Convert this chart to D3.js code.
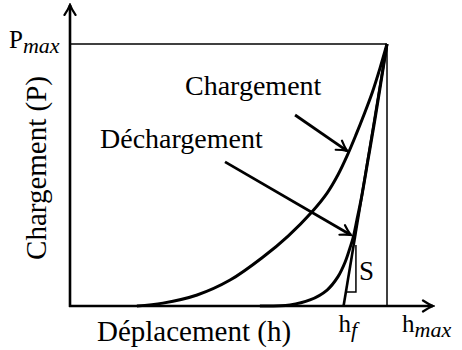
<!DOCTYPE html>
<html>
<head>
<meta charset="utf-8">
<script src="https://cdn.jsdelivr.net/npm/d3@7/dist/d3.min.js"></script>
<style>
  html, body { margin: 0; padding: 0; background: #fff; }
  svg { display: block; }
</style>
</head>
<body>
<svg id="chart" width="462" height="350"></svg>
<script>
// Normalised displacement h/hmax and load P/Pmax
const loadH = [0.211, 0.293, 0.401, 0.505, 0.609, 0.688, 0.763, 0.811, 0.845, 0.874, 0.902, 0.927, 0.953, 0.978, 1.0];
const loadP = [0.000, 0.011, 0.042, 0.099, 0.187, 0.267, 0.359, 0.431, 0.500, 0.573, 0.653, 0.729, 0.813, 0.908, 1.0];

const unloadH = [0.599, 0.694, 0.757, 0.811, 0.845, 0.868, 0.883, 0.893, 0.905, 0.921, 0.940, 0.959, 0.978, 1.0];
const unloadP = [0.000, 0.004, 0.023, 0.061, 0.111, 0.168, 0.221, 0.260, 0.328, 0.424, 0.557, 0.691, 0.832, 1.0];

// Final depth hf and maximum point (hmax, Pmax)
const hf = 0.863;
const hmax = 1.0;
const Pmax = 1.0;

// Contact stiffness S: small slope triangle under the tangent
const stiffH = [0.870, 0.902, 0.902];
const stiffP = [0.053, 0.053, 0.233];

// Axis extents beyond the maximum point
const hAxisEnd = 1.145;
const pAxisEnd = 1.149;

// Annotation arrows: [h0, P0, h1, P1]
const arrowCharge = [0.710, 0.729, 0.874, 0.592];
const arrowDecharge = [0.489, 0.550, 0.886, 0.271];

const SERIF = "'Liberation Serif', 'Times New Roman', 'DejaVu Serif', serif";

const svg = d3.select("#chart");

const x = d3.scaleLinear().domain([0, hmax]).range([70, 387]);
const y = d3.scaleLinear().domain([0, Pmax]).range([306, 44]);

// Arrow head marker (curved barbs)
const defs = svg.append("defs");
defs.append("marker")
  .attr("id", "head")
  .attr("viewBox", "-12 -7 14 14")
  .attr("refX", 0).attr("refY", 0)
  .attr("markerWidth", 14).attr("markerHeight", 14)
  .attr("markerUnits", "userSpaceOnUse")
  .attr("orient", "auto")
  .append("path")
  .attr("d", "M-10,-5.5 Q-4,-1.5 0,0 Q-4,1.5 -10,5.5")
  .attr("fill", "none")
  .attr("stroke", "#000")
  .attr("stroke-width", 2.2)
  .attr("stroke-linecap", "round");

// Reference lines at Pmax and hmax
svg.append("line")
  .attr("x1", x(0)).attr("y1", y(Pmax))
  .attr("x2", x(hmax)).attr("y2", y(Pmax))
  .attr("stroke", "#000").attr("stroke-width", 1.5);
svg.append("line")
  .attr("x1", x(hmax)).attr("y1", y(Pmax))
  .attr("x2", x(hmax)).attr("y2", y(0))
  .attr("stroke", "#000").attr("stroke-width", 1.5);

// Axes with arrow heads
svg.append("line")
  .attr("x1", x(0)).attr("y1", y(0) + 1)
  .attr("x2", x(0)).attr("y2", y(pAxisEnd))
  .attr("stroke", "#000").attr("stroke-width", 2.6)
  .attr("marker-end", "url(#head)");
svg.append("line")
  .attr("x1", x(0) - 1).attr("y1", y(0))
  .attr("x2", x(hAxisEnd)).attr("y2", y(0))
  .attr("stroke", "#000").attr("stroke-width", 2.6)
  .attr("marker-end", "url(#head)");

const curve = d3.line()
  .x(d => x(d[0]))
  .y(d => y(d[1]))
  .curve(d3.curveCatmullRom.alpha(0.5));

// Loading curve
svg.append("path")
  .datum(d3.zip(loadH, loadP))
  .attr("d", curve)
  .attr("fill", "none").attr("stroke", "#000").attr("stroke-width", 3);

// Unloading curve
svg.append("path")
  .datum(d3.zip(unloadH, unloadP))
  .attr("d", curve)
  .attr("fill", "none").attr("stroke", "#000").attr("stroke-width", 3);

// Tangent to the unloading curve at the maximum point
svg.append("line")
  .attr("x1", x(hf)).attr("y1", y(0))
  .attr("x2", x(hmax)).attr("y2", y(Pmax))
  .attr("stroke", "#000").attr("stroke-width", 2.6);

// Stiffness triangle
svg.append("path")
  .datum(d3.zip(stiffH, stiffP))
  .attr("d", d3.line().x(d => x(d[0])).y(d => y(d[1])))
  .attr("fill", "none").attr("stroke", "#000").attr("stroke-width", 1.5);

function label(px, py, size, str) {
  return svg.append("text")
    .attr("x", px).attr("y", py)
    .attr("font-family", SERIF)
    .attr("font-size", size)
    .attr("fill", "#000")
    .text(str);
}

label(x(stiffH[2]) + 3, y(0.10), 27, "S");

// Annotation arrows
[arrowCharge, arrowDecharge].forEach(a => {
  svg.append("line")
    .attr("x1", x(a[0])).attr("y1", y(a[1]))
    .attr("x2", x(a[2])).attr("y2", y(a[3]))
    .attr("stroke", "#000").attr("stroke-width", 2.8)
    .attr("marker-end", "url(#head)");
});

label(185, 95, 28, "Chargement");
label(100, 148, 28, "Déchargement");

// Axis titles
label(97, 341, 29, "Déplacement (h)");
label(0, 0, 29, "Chargement (P)")
  .attr("transform", "translate(46,168) rotate(-90)")
  .attr("text-anchor", "middle");

// Symbol labels with italic subscripts
function symbol(px, py, main, sub) {
  const t = label(px, py, 25, "");
  t.append("tspan").text(main);
  t.append("tspan")
    .attr("font-style", "italic")
    .attr("font-size", 22)
    .attr("dy", 5)
    .text(sub);
}
symbol(9, 48, "P", "max");
symbol(x(hf) - 5, 332, "h", "f");
symbol(x(hmax) + 15, 332, "h", "max");
</script>
</body>
</html>
